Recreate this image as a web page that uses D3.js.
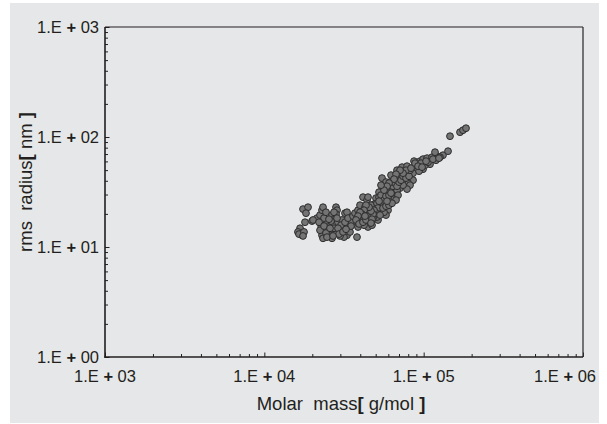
<!DOCTYPE html>
<html>
<head>
<meta charset="utf-8">
<script src="https://cdn.jsdelivr.net/npm/d3@7/dist/d3.min.js"></script>
<style>
  html, body { margin: 0; padding: 0; background: #ffffff; }
  svg { display: block; }
  text { font-family: "Liberation Sans", Arial, Helvetica, sans-serif; fill: #231f20; }
</style>
</head>
<body>
<svg id="chart" width="607" height="424"></svg>
<script>
// ---- data ----
const xTickValues = [1e3, 1e4, 1e5, 1e6];
const xTickLabels = ["1.E + 03", "1.E + 04", "1.E + 05", "1.E + 06"];
const yTickValues = [1e0, 1e1, 1e2, 1e3];
const yTickLabels = ["1.E + 00", "1.E + 01", "1.E + 02", "1.E + 03"];
const xTitle = "Molar  mass[ g/mol ]";
const yTitle = "rms  radius[ nm ]";

// molar mass [g/mol]
const molarMass = [
  16750, 16260, 17240, 16500, 17740, 17490, 17490, 18800, 18260, 18000, 19920, 21410, 20210,
  22360, 23010, 23350, 22680, 24030, 23010, 25090, 24730, 23690, 24380, 25460, 22360, 23350, 25830,
  26590, 28180, 28590, 27770, 26980, 27770, 26590, 27370, 29000, 28180,
  29850, 30720, 32090, 33030, 31170, 33030, 34000, 35500, 31620, 29850, 34490, 30280,
  22040, 23690, 24380, 25830, 26210, 27370, 29000, 29420, 31170, 32090, 33510, 35000, 36020, 32560, 24730, 26980, 28590, 25460,
  37070, 38720, 41620, 44100, 39860, 41020, 38720, 38160, 44100, 42840, 44740, 39860, 38160, 42230, 46050, 44740, 47400,
  50220, 53210, 54770, 57200, 58880, 61490, 63300, 64220, 66100, 59740, 55570, 54770, 66100, 69030, 68040,
  73140, 73140, 71060, 76390, 76390, 79780, 78630, 84530, 85760, 85760, 79780, 82120, 78630,
  47400, 49500, 51690, 53210, 49500, 51690, 54770, 57200, 59740, 61490, 63300, 58030, 50950, 48090,
  56380, 60610, 62390, 65160, 67070, 70040, 71060, 68040, 74210, 48790, 50950, 53980, 55570, 52450,
  58030, 65160, 69030, 67070, 46720, 45390, 56380, 59740, 62390, 70040, 75290, 44740, 58030,
  50950, 52450, 53980, 56380, 58030, 60610, 62390, 64220, 66100, 68040, 70040, 72090, 74210,
  77500, 80940, 82120, 77500, 74210, 71060, 67070, 65160, 60610, 58880, 56380, 53980,
  51690, 50220, 48790, 53210, 55570, 58030, 60610, 63300, 58880, 52450, 48090, 46720, 45390,
  43460, 42230, 41020, 39860, 38720, 37610, 39280, 41620, 43460, 42840, 47400, 46720,
  87010, 94900, 99100, 105000, 112800, 121300, 117800, 132200, 142200, 119500, 109600, 99100, 93540,
  89560, 83310, 102000, 106500, 126600, 88280, 96280, 103500, 114400, 124800, 92190, 97680,
  146300, 169100, 176600, 184400
];
// rms radius [nm]
const rmsRadius = [
  14.8, 13.7, 12.8, 13.1, 13.7, 12.6, 22.1, 23.0, 20.3, 16.8, 17.2, 18.3, 17.6,
  19.5, 21.6, 23.0, 15.8, 14.2, 12.8, 13.7, 16.5, 18.3, 20.7, 15.2, 14.2, 12.0, 12.8,
  19.5, 23.0, 21.6, 18.3, 15.8, 13.4, 12.0, 14.8, 16.8, 19.9,
  14.2, 17.6, 20.3, 20.7, 15.2, 12.8, 14.8, 16.8, 12.3, 12.6, 13.7, 15.8,
  16.8, 15.5, 13.4, 14.8, 17.2, 20.7, 14.8, 13.1, 13.7, 16.8, 18.3, 15.5, 19.1, 14.5, 12.3, 12.6, 18.3, 17.9,
  20.3, 21.6, 28.4, 26.7, 24.0, 18.3, 15.2, 12.3, 19.5, 23.0, 15.2, 16.8, 18.3, 15.8, 17.6, 21.6, 15.8,
  27.8, 30.9, 32.9, 35.0, 32.9, 36.5, 40.5, 32.9, 29.6, 28.4, 28.4, 42.3, 43.1, 47.9, 49.9,
  53.2, 42.3, 38.1, 40.5, 45.0, 47.9, 54.3, 52.1, 46.9, 40.5, 38.1, 36.5, 33.6,
  20.7, 22.6, 24.0, 26.7, 19.5, 17.6, 20.7, 24.0, 21.6, 25.6, 29.0, 19.5, 18.7, 18.3,
  30.9, 31.5, 34.3, 36.5, 38.9, 42.3, 34.3, 32.9, 36.5, 24.5, 21.2, 23.0, 25.0, 31.5,
  38.9, 27.2, 29.6, 26.7, 24.0, 19.5, 20.7, 26.7, 45.0, 45.0, 48.9, 28.4, 32.9,
  25.0, 28.4, 29.6, 26.7, 29.0, 29.6, 30.9, 35.7, 38.1, 35.7, 38.9, 40.5, 44.0,
  42.3, 44.0, 49.9, 49.9, 46.9, 49.9, 45.9, 41.4, 38.1, 35.7, 32.9, 36.5,
  22.6, 20.3, 21.6, 19.5, 22.6, 23.5, 24.0, 25.0, 26.1, 26.1, 19.9, 21.2, 23.0,
  24.0, 21.6, 19.9, 20.7, 19.1, 17.6, 16.2, 16.8, 17.6, 19.1, 17.9, 16.5,
  60.3, 60.3, 62.9, 64.2, 65.5, 66.9, 72.8, 68.3, 74.3, 61.5, 56.6, 51.0, 48.9,
  55.4, 52.1, 55.4, 59.0, 65.5, 57.8, 57.8, 60.3, 62.9, 64.2, 54.3, 53.2,
  101.7, 110.6, 115.3, 120.2
];

// ---- layout ----
const svg = d3.select("#chart");
const mLeft = 105, mRight = 583, mTop = 27, mBottom = 357;

svg.append("rect").attr("x", 10).attr("y", 3).attr("width", 589).attr("height", 420).attr("fill", "#e6e7e8");

const x = d3.scaleLog().domain([1e3, 1e6]).range([mLeft, mRight]);
const y = d3.scaleLog().domain([1, 1e3]).range([mBottom, mTop]);

const xAll = x.ticks();
const yAll = y.ticks();

// bottom axis (inward ticks)
const gx = svg.append("g").attr("transform", `translate(0,${mBottom})`)
  .call(d3.axisBottom(x).tickValues(xAll).tickSizeInner(-3).tickSizeOuter(0).tickFormat(""));
gx.select(".domain").remove();
gx.selectAll(".tick line").attr("stroke", "#231f20").attr("stroke-width", 1)
  .filter(d => xTickValues.some(v => Math.abs(v - d) < 1e-6 * v)).attr("y2", -4.5);

// left axis (inward ticks)
const gy = svg.append("g").attr("transform", `translate(${mLeft},0)`)
  .call(d3.axisLeft(y).tickValues(yAll).tickSizeInner(-3).tickSizeOuter(0).tickFormat(""));
gy.select(".domain").remove();
gy.selectAll(".tick line").attr("stroke", "#231f20").attr("stroke-width", 1)
  .filter(d => yTickValues.some(v => Math.abs(v - d) < 1e-6 * v)).attr("x2", 4.5);

// frame
svg.append("line").attr("x1", mLeft).attr("x2", mRight).attr("y1", mTop).attr("y2", mTop)
  .attr("stroke", "#231f20").attr("stroke-width", 1.2);
svg.append("line").attr("x1", mRight).attr("x2", mRight).attr("y1", mTop).attr("y2", mBottom)
  .attr("stroke", "#333").attr("stroke-width", 1.3);
svg.append("line").attr("x1", mLeft).attr("x2", mLeft).attr("y1", mTop).attr("y2", mBottom + 0.8)
  .attr("stroke", "#231f20").attr("stroke-width", 1.6);
svg.append("line").attr("x1", mLeft - 0.8).attr("x2", mRight).attr("y1", mBottom).attr("y2", mBottom)
  .attr("stroke", "#231f20").attr("stroke-width", 1.6);

function addLabel(sel, label) {
  const parts = label.split("+");
  sel.append("tspan").text(parts[0]);
  sel.append("tspan").attr("font-weight", "bold").text("+");
  sel.append("tspan").text(parts[1]);
}

// x tick labels (the last one is pulled inside the panel, as in the reference)
xTickValues.forEach((v, i) => {
  const last = i === xTickValues.length - 1;
  const t = svg.append("text").attr("x", last ? 596 : x(v)).attr("y", mBottom + 25)
    .attr("text-anchor", last ? "end" : "middle").attr("font-size", 16.5).style("white-space", "pre");
  addLabel(t, xTickLabels[i]);
});
// y tick labels
yTickValues.forEach((v, i) => {
  const t = svg.append("text").attr("x", mLeft - 6).attr("y", y(v) + 6)
    .attr("text-anchor", "end").attr("font-size", 16.5).style("white-space", "pre");
  addLabel(t, yTickLabels[i]);
});

// axis titles
function addTitle(sel, s) {
  const m = s.match(/^(.*?)\[(.*)\]$/);
  sel.append("tspan").text(m[1]);
  sel.append("tspan").attr("font-weight", "bold").text("[");
  sel.append("tspan").text(m[2]);
  sel.append("tspan").attr("font-weight", "bold").text("]");
}
const xt = svg.append("text").attr("x", 341).attr("y", 410).attr("text-anchor", "middle")
  .attr("font-size", 18.5).style("white-space", "pre");
addTitle(xt, xTitle);
const yt = svg.append("text").attr("transform", "translate(32,182) rotate(-90)").attr("text-anchor", "middle")
  .attr("font-size", 18.5).style("white-space", "pre");
addTitle(yt, yTitle);

// points
const pts = molarMass.map((m, i) => ({ m, r: rmsRadius[i] }));
svg.append("g").selectAll("circle").data(pts).enter().append("circle")
  .attr("cx", d => x(d.m)).attr("cy", d => y(d.r)).attr("r", 3.4)
  .attr("fill", "#747474").attr("stroke", "#2b2b2b").attr("stroke-width", 1);
</script>
</body>
</html>
